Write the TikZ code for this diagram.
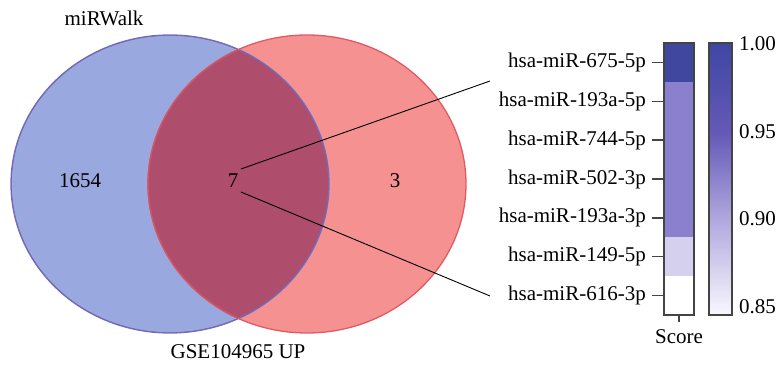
\documentclass[tikz,border=0pt]{standalone}
\usepackage{fontspec}
\setmainfont{Liberation Serif}
\definecolor{vblue}{HTML}{9AA8E0}
\definecolor{vblueline}{HTML}{6573CC}
\definecolor{vred}{HTML}{F59191}
\definecolor{vredline}{HTML}{E05A62}
\definecolor{vmix}{HTML}{AE4D6C}
\definecolor{hdark}{HTML}{3F479F}
\definecolor{hmid}{HTML}{8A80CD}
\definecolor{hlight}{HTML}{D6D0EF}
\definecolor{hborder}{HTML}{444444}
\definecolor{cbA}{HTML}{3E47A2}
\definecolor{cbB}{HTML}{6659B8}
\definecolor{cbC}{HTML}{B4ACE0}
\definecolor{cbD}{HTML}{F8F8FE}
\pgfdeclareverticalshading{cbar}{100bp}{color(0bp)=(cbD); color(25bp)=(cbD); color(41.7bp)=(cbC); color(58.3bp)=(cbB); color(75bp)=(cbA); color(100bp)=(cbA)}
\begin{document}
\begin{tikzpicture}[x=1pt,y=-1pt,
  lbl/.style={font=\fontsize{21}{24}\selectfont, inner sep=0pt},
  rowlbl/.style={lbl, anchor=east},
  ticklbl/.style={lbl, anchor=west},
  tickmark/.style={line width=1.3pt, hborder},
  connector/.style={line width=0.9pt, black}]
\useasboundingbox (0,0) rectangle (779,366);
% Venn
\fill[vblue] (170,184) ellipse [x radius=159, y radius=149];
\fill[vred] (307,184) ellipse [x radius=159, y radius=149];
\begin{scope}
  \clip (170,184) ellipse [x radius=159, y radius=149];
  \fill[vmix] (307,184) ellipse [x radius=159, y radius=149];
\end{scope}
\draw[vblueline, line width=1.3pt] (170,184) ellipse [x radius=159, y radius=149];
\begin{scope}
  \clip (170,184) ellipse [x radius=159, y radius=149];
  \draw[vblueline!60!vmix, line width=1.3pt] (170,184) ellipse [x radius=159, y radius=149];
\end{scope}
\draw[vredline, line width=1.3pt] (307,184) ellipse [x radius=159, y radius=149];
\begin{scope}
  \clip (170,184) ellipse [x radius=159, y radius=149];
  \draw[vredline!70!vmix, line width=1.3pt] (307,184) ellipse [x radius=159, y radius=149];
\end{scope}
\node[lbl] (mirwalk) at (104,18) {miRWalk};
\node[lbl] (gse) at (238,352) {GSE104965 UP};
\node[lbl] (n1654) at (80,181) {1654};
\node[lbl] (n7) at (233,181) {7};
\node[lbl] (n3) at (395,181) {3};
\coordinate (c1s) at (241,169);
\coordinate (c1e) at (490,81);
\coordinate (c2s) at (241,192);
\coordinate (c2e) at (490,296);
\draw[connector] (c1s) -- (c1e);
\draw[connector] (c2s) -- (c2e);
% heatmap
\fill[hdark] (664,43) rectangle (694,82);
\fill[hmid] (664,82) rectangle (694,237);
\fill[hlight] (664,237) rectangle (694,276);
\fill[white] (664,276) rectangle (694,315);
\draw[hborder, line width=1.3pt] (664,43) rectangle (694,315);
\foreach \t [count=\i] in {hsa-miR-675-5p,hsa-miR-193a-5p,hsa-miR-744-5p,hsa-miR-502-3p,hsa-miR-193a-3p,hsa-miR-149-5p,hsa-miR-616-3p}{
  \pgfmathsetmacro{\yy}{43+38.857*(\i-0.5)}
  \node[rowlbl] (row\i) at (646,\yy) {\t};
  \draw[tickmark] (652,\yy) -- (664,\yy);
}
\draw[tickmark] (679,315) -- (679,322);
\node[lbl] (score) at (679,337) {Score};
% colorbar
\shade[shading=cbar] (709,43) rectangle (732,315);
\draw[hborder, line width=1.3pt] (709,43) rectangle (732,315);
\node[ticklbl] (t100) at (739,44) {1.00};
\node[ticklbl] (t095) at (739,132) {0.95};
\node[ticklbl] (t090) at (739,219) {0.90};
\node[ticklbl] (t085) at (739,307) {0.85};
\end{tikzpicture}
\end{document}
